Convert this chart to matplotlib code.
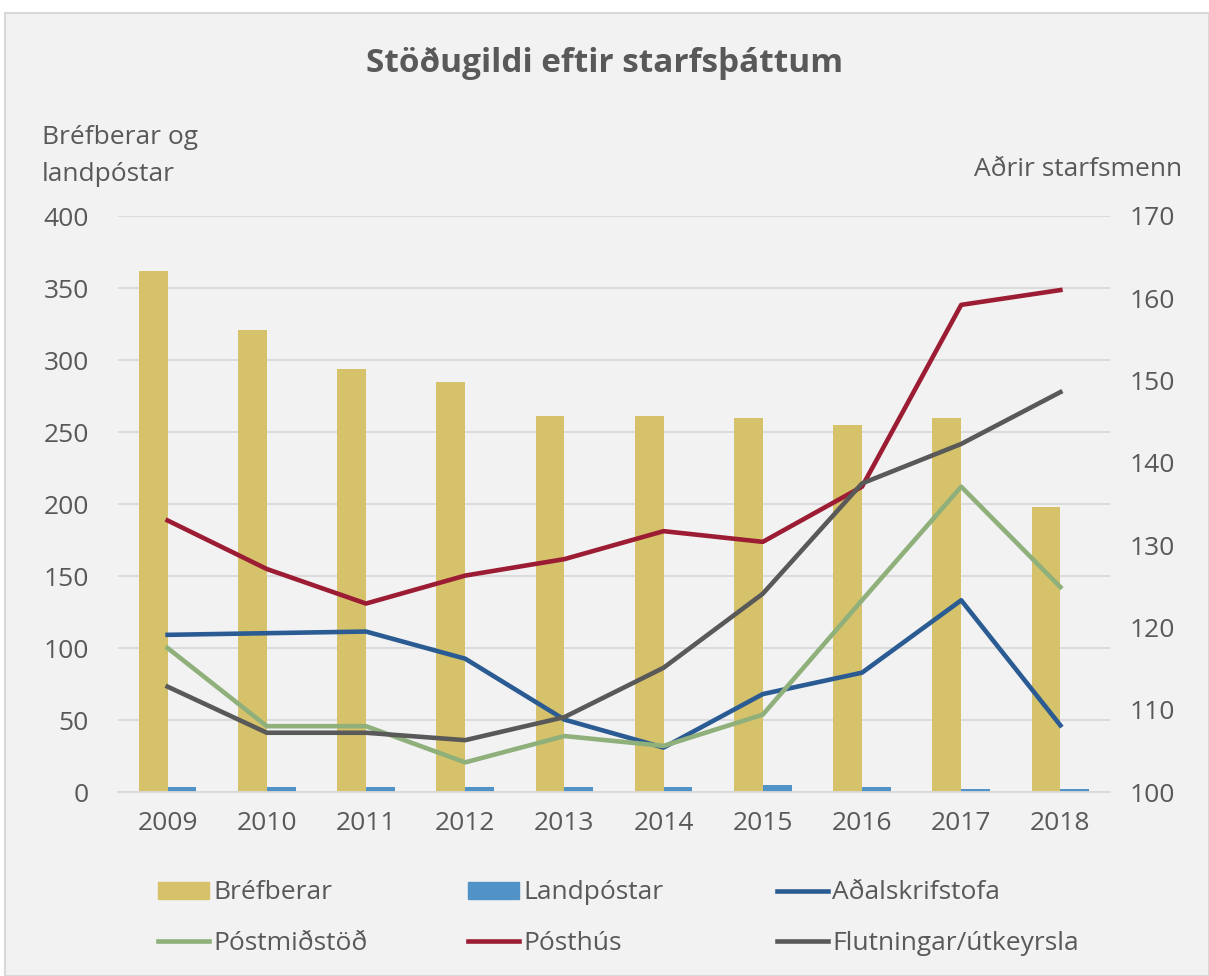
import numpy as np
import matplotlib.pyplot as plt
from matplotlib.patches import Rectangle, Patch
from matplotlib.lines import Line2D

plt.rcParams['font.family'] = ['Open Sans', 'DejaVu Sans']

years = ['2009', '2010', '2011', '2012', '2013', '2014', '2015', '2016', '2017', '2018']
brefberar = [362, 321, 294, 285, 261, 261, 260, 255, 260, 198]
landpostar = [3.5, 3.5, 3.5, 3.5, 3.5, 3.5, 5, 3.5, 2, 2]
adalskrifstofa = [119.1, 119.3, 119.5, 116.2, 108.8, 105.4, 111.9, 114.5, 123.3, 108.1]
postmidstod = [117.5, 108.0, 108.0, 103.6, 106.8, 105.6, 109.4, 123.3, 137.1, 124.9]
posthus = [133.0, 127.1, 122.9, 126.3, 128.3, 131.7, 130.4, 137.1, 159.2, 161.0]
flutningar = [112.8, 107.2, 107.2, 106.3, 109.1, 115.1, 124.1, 137.5, 142.3, 148.6]

text_col = '#595959'
c_bref = '#d6c26b'
c_land = '#5193c6'
c_adal = '#2b5b93'
c_postm = '#8fb07b'
c_posth = '#9c1c34'
c_flut = '#595959'
fs = 19

fig = plt.figure(figsize=(12.09, 9.76), dpi=100, facecolor='white')
fig.patches.append(Rectangle((5 / 1209, 0), 1 - 5 / 1209, 1 - 13 / 976, transform=fig.transFigure,
                             facecolor='#f2f2f2', edgecolor='#d9d9d9', linewidth=1.5, zorder=-10))

ax = fig.add_axes([118 / 1209, 1 - 792 / 976, (1110 - 118) / 1209, (792 - 216) / 976])
ax.set_facecolor('none')
x = np.arange(len(years))
w = 0.29
ax.bar(x - w / 2, brefberar, width=w, color=c_bref, zorder=2)
ax.bar(x + w / 2, landpostar, width=w, color=c_land, zorder=2)
ax.set_xlim(-0.5, len(years) - 0.5)
ax.set_ylim(0, 400)
ax.set_yticks(range(0, 401, 50))
ax.set_xticks(x)
ax.set_xticklabels(years)
ax.grid(axis='y', color='#d9d9d9', linewidth=1.3)
ax.set_axisbelow(True)
for s in ['top', 'left', 'right']:
    ax.spines[s].set_visible(False)
ax.spines['bottom'].set_color('#d9d9d9')
ax.spines['bottom'].set_linewidth(1.3)
ax.tick_params(length=0, labelsize=fs, labelcolor=text_col)
ax.tick_params(axis='x', pad=14)
ax.tick_params(axis='y', pad=21)

ax2 = ax.twinx()
lw = 3.3
ax2.plot(x, adalskrifstofa, color=c_adal, lw=lw, zorder=3)
ax2.plot(x, postmidstod, color=c_postm, lw=lw, zorder=3)
ax2.plot(x, posthus, color=c_posth, lw=lw, zorder=3)
ax2.plot(x, flutningar, color=c_flut, lw=lw, zorder=3)
ax2.set_ylim(100, 170)
ax2.set_yticks(range(100, 171, 10))
for s in ['top', 'left', 'right', 'bottom']:
    ax2.spines[s].set_visible(False)
ax2.tick_params(length=0, labelsize=fs, labelcolor=text_col, pad=14)

fig.text(0.5, 1 - 63 / 976, 'Stöðugildi eftir starfsþáttum', ha='center', va='center',
         fontsize=24, fontweight='bold', color=text_col)
fig.text(42 / 1209, 1 - 156 / 976, 'Bréfberar og\nlandpóstar', ha='left', va='center',
         fontsize=fs, color=text_col, linespacing=1.6)
fig.text(1182 / 1209, 1 - 170 / 976, 'Aðrir starfsmenn', ha='right', va='center',
         fontsize=fs, color=text_col)

# legend: three columns, each its own legend so the columns sit at fixed x
columns = [
    ([Patch(color=c_bref), Line2D([], [], color=c_postm, lw=lw)], ['Bréfberar', 'Póstmiðstöð'], 158),
    ([Patch(color=c_land), Line2D([], [], color=c_posth, lw=lw)], ['Landpóstar', 'Pósthús'], 468),
    ([Line2D([], [], color=c_adal, lw=lw), Line2D([], [], color=c_flut, lw=lw)],
     ['Aðalskrifstofa', 'Flutningar/útkeyrsla'], 777),
]
for hs, ls, px in columns:
    fig.legend(hs, ls, loc='center left', bbox_to_anchor=(px / 1209, 1 - 918 / 976),
               frameon=False, fontsize=fs, labelcolor=text_col, handlelength=1.95,
               handleheight=0.6, handletextpad=0.15, labelspacing=0.95, borderpad=0,
               borderaxespad=0)

fig.savefig('out.png', dpi=100, facecolor=fig.get_facecolor())
